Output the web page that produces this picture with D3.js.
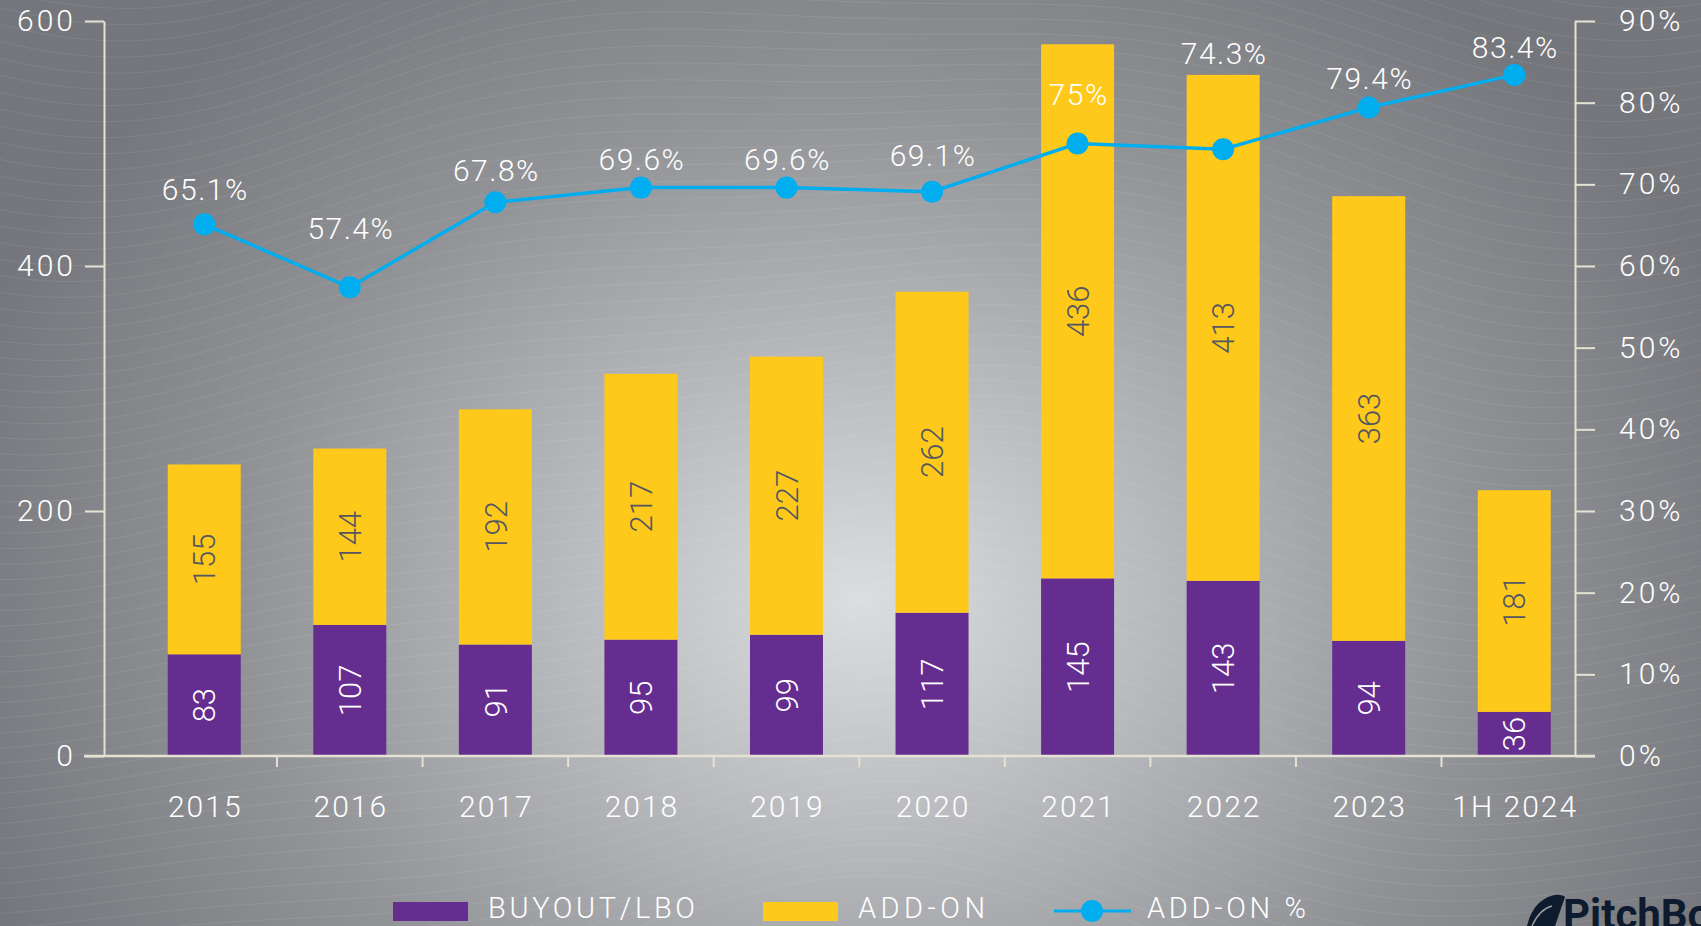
<!DOCTYPE html>
<html><head><meta charset="utf-8">
<script src="https://cdn.jsdelivr.net/npm/d3@7"></script>
<style>
html,body{margin:0;padding:0;overflow:hidden;background:#8a8b8f}
svg{display:block}
text{font-family:Roboto,"Open Sans",sans-serif;}
</style></head><body>
<svg id="chart" width="1701" height="926"></svg>
<script>
// ---- data ----
const categories = ["2015","2016","2017","2018","2019","2020","2021","2022","2023","1H 2024"];
const buyout = [83,107,91,95,99,117,145,143,94,36];
const addon = [155,144,192,217,227,262,436,413,363,181];
const addonPct = [65.1,57.4,67.8,69.6,69.6,69.1,75,74.3,79.4,83.4];
const pctLabels = ["65.1%","57.4%","67.8%","69.6%","69.6%","69.1%","75%","74.3%","79.4%","83.4%"];
const leftTicks = [0,200,400,600];
const rightTicks = [0,10,20,30,40,50,60,70,80,90];
const legendNames = ["BUYOUT/LBO","ADD-ON","ADD-ON %"];

// ---- style ----
const W=1701,H=926;
const PURPLE="#652d90", YELLOW="#fec91a", BLUE="#00aeef", AXIS="#e6e2d3";

const svg=d3.select("#chart");
const defs=svg.append("defs");
const rg=defs.append("radialGradient").attr("id","bg").attr("gradientUnits","userSpaceOnUse")
  .attr("cx",860).attr("cy",600).attr("r",950)
  .attr("gradientTransform","translate(860,600) scale(1,0.8) translate(-860,-600)");
[[0,"#dcdddf"],[0.3,"#babbbe"],[0.65,"#929397"],[1,"#75767b"]].forEach(s=>rg.append("stop").attr("offset",s[0]).attr("stop-color",s[1]));
svg.append("rect").attr("width",W).attr("height",H).attr("fill","url(#bg)");

// decorative waves
const waveG=svg.append("g").attr("fill","none").attr("stroke","#fff").attr("stroke-opacity",0.08).attr("stroke-width",1);
const wl=d3.line().curve(d3.curveBasis);
for(let i=0;i<70;i++){
  const base=-150+i*16;
  const pts=d3.range(-20,W+40,20).map(x=>[x, base + 60*Math.sin(x/240 + 1.2) + 20*Math.sin(x/120+i*0.05)]);
  waveG.append("path").attr("d",wl(pts));
}

// ---- scales ----
const x=d3.scaleBand().domain(categories).range([131.5,1587]).paddingInner(0.4985).paddingOuter(0.249);
const y=d3.scaleLinear().domain([0,600]).range([756,21]);
const y2=d3.scaleLinear().domain([0,90]).range([756,21]);
const bw=x.bandwidth(), step=x.step();
const cx=c=>x(c)+bw/2;

// ---- bars ----
const rows=categories.map((c,i)=>({c,b:buyout[i],a:addon[i],p:addonPct[i],pl:pctLabels[i]}));
const bars=svg.append("g");
bars.selectAll(".b").data(rows).join("rect")
  .attr("x",d=>x(d.c)).attr("width",bw)
  .attr("y",d=>y(d.b)).attr("height",d=>y(0)-y(d.b)).attr("fill",PURPLE);
bars.selectAll(".a").data(rows).join("rect")
  .attr("x",d=>x(d.c)).attr("width",bw)
  .attr("y",d=>y(d.b+d.a)).attr("height",d=>y(d.b)-y(d.b+d.a)).attr("fill",YELLOW);

// bar labels
const lab=svg.append("g").attr("font-size",31).attr("font-weight",300).attr("text-anchor","middle");
lab.selectAll(".lb").data(rows).join("text")
  .attr("transform",d=>`translate(${cx(d.c)},${(y(0)+y(d.b))/2}) rotate(-90)`)
  .attr("dy","0.36em").attr("fill","#fff").text(d=>d.b);
lab.selectAll(".la").data(rows).join("text")
  .attr("transform",d=>`translate(${cx(d.c)},${(y(d.b)+y(d.b+d.a))/2}) rotate(-90)`)
  .attr("dy","0.36em").attr("fill","#545760").text(d=>d.a);

// ---- axes ----
const axG=svg.append("g");
const la=axG.append("g").attr("transform","translate(104,0)")
  .call(d3.axisLeft(y).tickValues(leftTicks).tickSize(19).tickSizeOuter(0).tickPadding(9));
const ra=axG.append("g").attr("transform","translate(1575,0)")
  .call(d3.axisRight(y2).tickValues(rightTicks).tickSize(20).tickSizeOuter(0).tickPadding(24).tickFormat(d=>d+"%"));
[la,ra].forEach(g=>{
  g.selectAll("path,line").attr("stroke",AXIS).attr("stroke-width",2);
  g.selectAll("text").attr("fill","#fff").attr("font-size",30).attr("font-weight",300)
   .attr("letter-spacing",3).attr("font-family",'Roboto,"Open Sans",sans-serif');
});
// x axis baseline
axG.append("line").attr("x1",84).attr("x2",1595).attr("y1",y(0)).attr("y2",y(0)).attr("stroke",AXIS).attr("stroke-width",2.5);
axG.selectAll(".xt").data(categories.slice(0,-1)).join("line")
  .attr("x1",d=>x(d)+bw+(step-bw)/2).attr("x2",d=>x(d)+bw+(step-bw)/2)
  .attr("y1",y(0)).attr("y2",y(0)+11).attr("stroke",AXIS).attr("stroke-width",2);
axG.selectAll(".xl").data(categories).join("text")
  .attr("x",d=>cx(d)+1).attr("y",817).attr("text-anchor","middle").attr("letter-spacing",2)
  .attr("fill","#fff").attr("font-size",30).attr("font-weight",300).text(d=>d);

// ---- line ----
const lift={"2015":24,"2016":48,"2017":21,"2018":18,"2019":18,"2020":26,"2021":39,"2022":85,"2023":19,"1H 2024":17};
svg.append("path").datum(rows).attr("fill","none").attr("stroke",BLUE).attr("stroke-width",3.5)
  .attr("d",d3.line().x(d=>cx(d.c)).y(d=>y2(d.p)));
svg.append("g").selectAll("circle").data(rows).join("circle")
  .attr("cx",d=>cx(d.c)).attr("cy",d=>y2(d.p)).attr("r",11).attr("fill",BLUE);
svg.append("g").selectAll("text").data(rows).join("text")
  .attr("x",d=>cx(d.c)+1).attr("y",d=>y2(d.p)-lift[d.c])
  .attr("text-anchor","middle").attr("fill","#fff").attr("font-size",30).attr("font-weight",300)
  .attr("letter-spacing",1.5).text(d=>d.pl);

// ---- legend ----
const lg=svg.append("g").attr("font-size",29).attr("font-weight",300).attr("fill","#fff");
lg.append("rect").attr("x",393).attr("y",902).attr("width",75).attr("height",19).attr("fill",PURPLE);
lg.append("text").attr("x",488).attr("y",918).attr("textLength",207).attr("lengthAdjust","spacing").text(legendNames[0]);
lg.append("rect").attr("x",763).attr("y",902).attr("width",75).attr("height",19).attr("fill",YELLOW);
lg.append("text").attr("x",858).attr("y",918).attr("textLength",127).attr("lengthAdjust","spacing").text(legendNames[1]);
lg.append("line").attr("x1",1054).attr("x2",1131).attr("y1",911).attr("y2",911).attr("stroke",BLUE).attr("stroke-width",3);
lg.append("circle").attr("cx",1092).attr("cy",911).attr("r",11).attr("fill",BLUE);
lg.append("text").attr("x",1147).attr("y",918).attr("textLength",159).attr("lengthAdjust","spacing").text(legendNames[2]);

// ---- logo ----
const logo=svg.append("g").attr("fill","#0e1a2e");
logo.append("path").attr("d","M1543,900 C1553,893 1562,894 1565,897 L1555,926 L1527,926 C1530,914 1535,905 1543,900 Z");
logo.append("path").attr("d","M1532,926 C1537,915 1544,908 1552,906").attr("stroke","#9a9b9f").attr("stroke-width",1.5).attr("fill","none");
logo.append("text").attr("x",1563).attr("y",929).attr("font-size",42).attr("font-weight",700)
  .attr("font-family",'"Open Sans",Roboto,sans-serif').text("PitchBook");
</script></body></html>
